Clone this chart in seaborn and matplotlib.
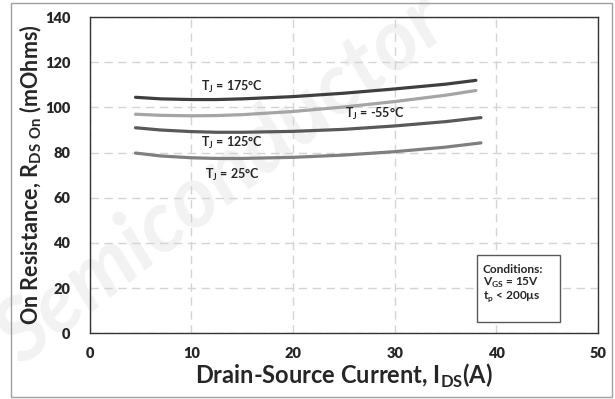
import matplotlib
matplotlib.use("Agg")
import matplotlib.pyplot as plt
import seaborn as sns
import pandas as pd
from matplotlib.patches import Rectangle

# Drain current (A) sample points and on-resistance (mOhm) per junction temperature
ids_a = [4.5, 7, 10, 12.5, 15, 20, 25, 30, 35, 38]
ids_b = [4.5, 7, 10, 12.5, 15, 20, 25, 30, 35, 38.5]
r_175 = [104.5, 103.8, 103.5, 103.5, 103.8, 104.8, 106.3, 108.2, 110.3, 112.0]
r_m55 = [97.0, 96.5, 96.3, 96.4, 96.8, 98.2, 100.2, 102.6, 105.4, 107.5]
r_125 = [91.0, 90.0, 89.3, 89.0, 89.0, 89.4, 90.3, 91.8, 93.7, 95.5]
r_25 = [79.8, 78.5, 77.7, 77.4, 77.4, 77.9, 78.9, 80.4, 82.4, 84.3]

series = ["175", "-55", "125", "25"]
labels = [r"T$_\mathregular{J}$ = 175°C", r"T$_\mathregular{J}$ = -55°C",
          r"T$_\mathregular{J}$ = 125°C", r"T$_\mathregular{J}$ = 25°C"]
label_pos = [(14.0, 108.9), (28.1, 96.9), (14.0, 84.4), (14.0, 70.2)]
colors = {"175": "#3f3f3f", "-55": "#a5a5a5", "125": "#595959", "25": "#7f7f7f"}

conditions = ["Conditions:", r"V$_\mathregular{GS}$ = 15V", r"t$_\mathregular{p}$ < 200µs"]

x_ticks = [0, 10, 20, 30, 40, 50]
y_ticks = [0, 20, 40, 60, 80, 100, 120, 140]

df = pd.concat([
    pd.DataFrame({"Ids": ids_a, "Rds": r_175, "Tj": "175"}),
    pd.DataFrame({"Ids": ids_a, "Rds": r_m55, "Tj": "-55"}),
    pd.DataFrame({"Ids": ids_b, "Rds": r_125, "Tj": "125"}),
    pd.DataFrame({"Ids": ids_b, "Rds": r_25, "Tj": "25"}),
])

sns.set_theme(style="white")
plt.rcParams["font.family"] = ["Lato", "DejaVu Sans"]
plt.rcParams["mathtext.fontset"] = "custom"
plt.rcParams["mathtext.rm"] = "Lato:bold"
plt.rcParams["mathtext.bf"] = "Lato:bold"

fig = plt.figure(figsize=(6.15, 3.99), dpi=100)
ax = fig.add_axes([0.146, 0.165, 0.826, 0.792])
ax.set_zorder(2)

# faint background watermark
fig.text(0.36, 0.55, "Semiconductor", fontsize=62, fontweight="bold", style="italic",
         color="#f2f2f2", rotation=38, ha="center", va="center", zorder=0)

sns.lineplot(data=df, x="Ids", y="Rds", hue="Tj", hue_order=series, palette=colors,
             linewidth=2.3, legend=False, ax=ax, zorder=3)
ax.patch.set_alpha(0)

ax.set_xlim(0, 50)
ax.set_ylim(0, 140)
ax.set_xticks(x_ticks)
ax.set_yticks(y_ticks)
ax.set_xticklabels([str(v) for v in x_ticks], fontsize=10.5, fontweight="heavy")
ax.set_yticklabels([str(v) for v in y_ticks], fontsize=10.5, fontweight="heavy")
ax.tick_params(axis="x", pad=10, length=0)
ax.tick_params(axis="y", pad=14, length=0)
ax.grid(True, color="#d4d4d4", linestyle=(0, (6, 4)), linewidth=1.0)
for s in ax.spines.values():
    s.set_color("#333333")
    s.set_linewidth(1.0)

ax.set_xlabel(r"Drain-Source Current, I$_\mathregular{DS}$(A)", fontsize=17,
              fontweight="bold", labelpad=1)
ax.set_ylabel(r"On Resistance, R$_\mathregular{DS\ On}$ (mOhms)", fontsize=15.5,
              fontweight="bold", labelpad=1)

for lab, (lx, ly) in zip(labels, label_pos):
    ax.text(lx, ly, lab, fontsize=9, fontweight="bold", ha="center", va="center", zorder=4)

# conditions box
ax.add_patch(Rectangle((38.1, 4.9), 8.2, 29.8, facecolor="white", edgecolor="#595959",
                       linewidth=1.0, zorder=5))
for line, ty in zip(conditions, [28.4, 22.2, 16.0]):
    ax.text(38.7, ty, line, fontsize=8.6, fontweight="bold", ha="left", va="center", zorder=6)

# light outer frame around the figure
fig.patches.append(Rectangle((0.018, 0.006), 0.977, 0.986, transform=fig.transFigure,
                             fill=False, edgecolor="#a0a0a0", linewidth=1.0))

fig.savefig("out.png", dpi=100)
